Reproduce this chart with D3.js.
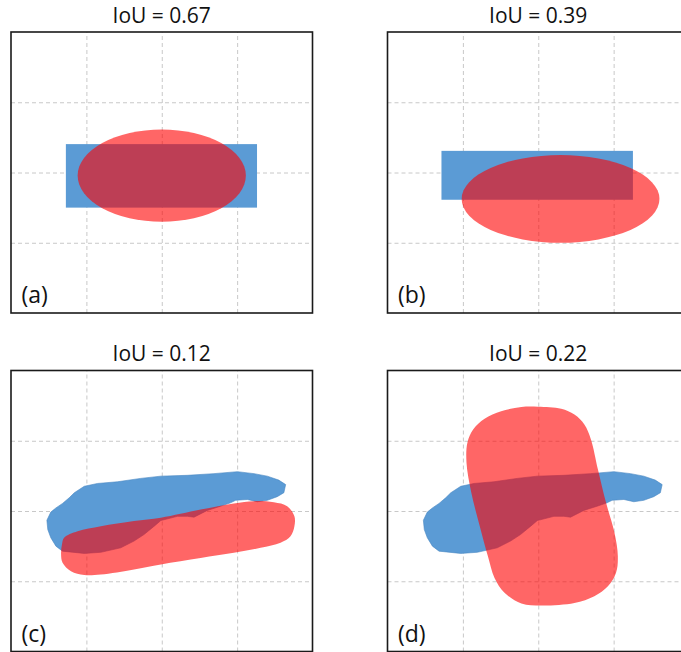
<!DOCTYPE html>
<meta charset="utf-8">
<style>
	body {
		margin: 0;
		background: #fff;
		font-family: "Open Sans", "Noto Sans", sans-serif;
	}
	.grid line {
		stroke: #c8c8c8;
		stroke-width: 1;
		stroke-dasharray: 4, 3;
	}
	.grid .domain {
		display: none;
	}
	.frame {
		fill: none;
		stroke: #1a1a1a;
		stroke-width: 1.6px;
	}
	.title {
		font-size: 21px;
		fill: #111;
	}
	.tag {
		font-size: 23px;
		fill: #111;
	}
</style>
<body>
<svg id="chart" width="681" height="652"></svg>
<script src="https://cdn.jsdelivr.net/npm/d3@7"></script>
<script>
	// panel texts
	var titles = ["IoU = 0.67", "IoU = 0.39", "IoU = 0.12", "IoU = 0.22"];
	var tags = ["(a)", "(b)", "(c)", "(d)"];
	var gridTicks = [25, 50, 75];

	// boxes: [x0, y0, x1, y1] in data units (0..100, y down)
	var boxA = [18.2, 39.9, 81.6, 62.5];
	var boxB = [17.9, 42.3, 81.4, 59.7];
	// ellipses: [cx, cy, rx, ry]
	var ellA = [50.0, 51.1, 27.9, 16.4];
	var ellB = [57.4, 59.4, 32.8, 15.6];

	// irregular ground-truth mask outline (same in c and d)
	var blueBlob = [
		[11.9, 53.3], [13.2, 50.4], [14.9, 48.9], [17.1, 47.3], [19.3, 45.3], [21.0, 43.5],
		[24.3, 41.2], [28.7, 40.2], [35.3, 39.6], [43.0, 38.4], [49.7, 37.6], [58.5, 37.3],
		[67.3, 36.7], [75.1, 36.0], [80.6, 36.7], [85.0, 37.6], [88.8, 39.0], [91.1, 40.6],
		[90.5, 43.5], [88.3, 44.9], [85.0, 46.2], [81.7, 46.7], [78.4, 45.9], [74.5, 46.2],
		[72.8, 47.1], [69.5, 48.3], [65.1, 49.8], [60.7, 52.2], [58.5, 51.9], [55.2, 51.9],
		[49.7, 53.4], [47.5, 55.4], [44.1, 58.4], [40.8, 60.7], [36.4, 63.1], [29.8, 64.7],
		[24.3, 65.1], [17.1, 64.3], [14.9, 62.5], [13.2, 59.5], [12.2, 56.6]
	];
	var redBlobC = [
		[17.6, 59.5], [22.1, 57.2], [29.8, 55.4], [40.8, 53.6], [49.7, 52.4], [62.9, 49.5],
		[73.9, 47.3], [80.6, 46.5], [87.2, 46.9], [91.6, 48.3], [94.0, 51.9], [94.0, 55.4],
		[92.7, 59.0], [89.4, 61.3], [82.8, 63.1], [73.9, 64.9], [62.9, 66.7], [49.7, 69.0],
		[40.8, 70.8], [29.8, 72.6], [24.3, 72.8], [19.9, 71.4], [17.1, 68.4], [16.6, 65.1],
		[16.9, 61.9]
	];
	var redBlobD = [
		[49.9, 12.9], [57.6, 13.6], [62.0, 15.7], [65.3, 19.2], [67.5, 24.6], [69.8, 35.2],
		[72.5, 47.1], [75.3, 57.8], [76.4, 66.1], [75.8, 72.0], [73.1, 76.8], [68.6, 80.3],
		[62.0, 82.7], [51.0, 83.6], [44.4, 82.9], [38.8, 79.1], [35.5, 73.8], [33.3, 66.1],
		[30.6, 55.4], [27.8, 43.5], [26.2, 32.8], [26.5, 25.7], [28.4, 21.0], [32.2, 17.2],
		[37.7, 14.5], [44.4, 13.0]
	];

	var BLUE = "#5b9bd5",
		RED = "#ff0000",
		RED_ALPHA = 0.6;

	var colLeft = [11, 387.5],
		rowTop = [32, 370.5],
		panelW = 301.5,
		panelH = 281;

	var panels = [
		{ kind: "box", box: boxA, ell: ellA },
		{ kind: "box", box: boxB, ell: ellB },
		{ kind: "blob", blue: blueBlob, red: redBlobC },
		{ kind: "blob", blue: blueBlob, red: redBlobD }
	];

	var svg = d3.select("#chart");

	panels.forEach(function(p, i) {
		var left = colLeft[i % 2],
			top = rowTop[Math.floor(i / 2)];

		var x = d3.scaleLinear().domain([0, 100]).range([0, panelW]);
		var y = d3.scaleLinear().domain([0, 100]).range([0, panelH]);

		var g = svg.append("g").attr("transform", "translate(" + left + "," + top + ")");

		g.append("clipPath").attr("id", "clip" + i)
			.append("rect").attr("width", panelW).attr("height", panelH);

		// dashed grid
		g.append("g").attr("class", "grid")
			.attr("transform", "translate(0," + panelH + ")")
			.call(d3.axisBottom(x).tickValues(gridTicks).tickSize(-panelH).tickFormat(""));
		g.append("g").attr("class", "grid")
			.call(d3.axisLeft(y).tickValues(gridTicks).tickSize(-panelW).tickFormat(""));

		var body = g.append("g").attr("clip-path", "url(#clip" + i + ")");

		if (p.kind === "box") {
			body.append("rect")
				.attr("x", x(p.box[0]))
				.attr("y", y(p.box[1]))
				.attr("width", x(p.box[2]) - x(p.box[0]))
				.attr("height", y(p.box[3]) - y(p.box[1]))
				.attr("fill", BLUE);
			body.append("ellipse")
				.attr("cx", x(p.ell[0]))
				.attr("cy", y(p.ell[1]))
				.attr("rx", x(p.ell[2]) - x(0))
				.attr("ry", y(p.ell[3]) - y(0))
				.attr("fill", RED)
				.attr("fill-opacity", RED_ALPHA);
		} else {
			var blueLine = d3.line().x(function(d) { return x(d[0]); }).y(function(d) { return y(d[1]); })
				.curve(d3.curveLinearClosed);
			var redLine = d3.line().x(function(d) { return x(d[0]); }).y(function(d) { return y(d[1]); })
				.curve(d3.curveCatmullRomClosed.alpha(0.5));
			body.append("path")
				.attr("d", blueLine(p.blue))
				.attr("fill", BLUE)
				.attr("stroke", "#4a88c2")
				.attr("stroke-width", 0.6);
			body.append("path")
				.attr("d", redLine(p.red))
				.attr("fill", RED)
				.attr("fill-opacity", RED_ALPHA);
		}

		g.append("rect").attr("class", "frame")
			.attr("width", panelW).attr("height", panelH);

		g.append("text").attr("class", "title")
			.attr("x", panelW / 2).attr("y", -9.5)
			.attr("text-anchor", "middle")
			.text(titles[i]);

		g.append("text").attr("class", "tag")
			.attr("x", 10.5).attr("y", panelH - 10)
			.text(tags[i]);
	});
</script>
</body>
